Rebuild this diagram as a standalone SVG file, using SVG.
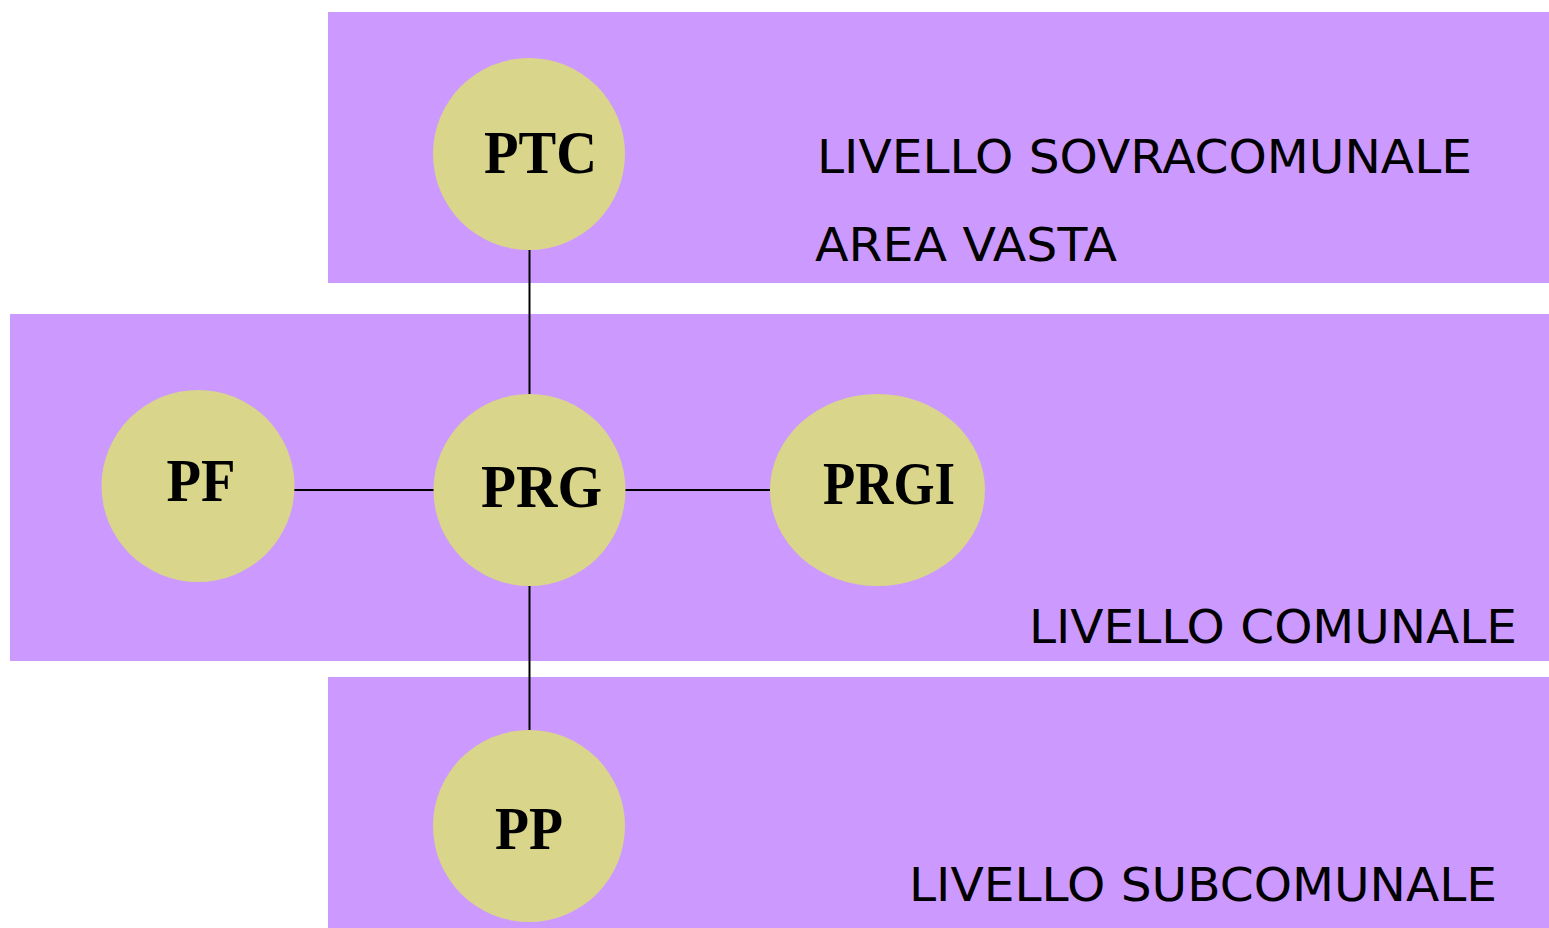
<svg xmlns="http://www.w3.org/2000/svg" width="1549" height="928" viewBox="0 0 1549 928">
<style>
.band{fill:#CC99FF}
.node{fill:#D9D58A}
.nl{font-family:"Liberation Serif","Times New Roman",serif;font-weight:bold;font-size:62px;fill:#000}
.lv{font-family:"DejaVu Sans",Verdana,sans-serif;font-size:46px;fill:#000}
.conn{stroke:#000;stroke-width:2;fill:none}
</style>
<rect width="1549" height="928" fill="#FFFFFF"/>
<g id="bands">
<rect id="band-sovracomunale" class="band" x="328" y="12" width="1221" height="271"/>
<rect id="band-comunale" class="band" x="10" y="314" width="1539" height="347"/>
<rect id="band-subcomunale" class="band" x="328" y="677" width="1221" height="251"/>
</g>
<g id="connectors">
<line class="conn" x1="529.5" y1="249" x2="529.5" y2="394"/>
<line class="conn" x1="289" y1="490" x2="434" y2="490"/>
<line class="conn" x1="625" y1="490" x2="770" y2="490"/>
<line class="conn" x1="529.5" y1="586" x2="529.5" y2="730"/>
</g>
<g id="node-PTC">
<ellipse class="node" cx="529" cy="154" rx="96" ry="96"/>
<text class="nl" x="484" y="173" textLength="113" lengthAdjust="spacingAndGlyphs">PTC</text>
</g>
<g id="node-PF">
<ellipse class="node" cx="198" cy="486" rx="96.5" ry="96"/>
<text class="nl" x="166.5" y="501" textLength="69" lengthAdjust="spacingAndGlyphs">PF</text>
</g>
<g id="node-PRG">
<ellipse class="node" cx="529.5" cy="490" rx="96" ry="96"/>
<text class="nl" x="481" y="507" textLength="121" lengthAdjust="spacingAndGlyphs">PRG</text>
</g>
<g id="node-PRGI">
<ellipse class="node" cx="877.5" cy="490" rx="107.5" ry="96"/>
<text class="nl" x="823" y="504" textLength="132" lengthAdjust="spacingAndGlyphs">PRGI</text>
</g>
<g id="node-PP">
<ellipse class="node" cx="529" cy="826" rx="96" ry="96"/>
<text class="nl" x="495" y="849" textLength="68" lengthAdjust="spacingAndGlyphs">PP</text>
</g>
<g id="labels">
<text class="lv" x="817" y="173" textLength="655" lengthAdjust="spacingAndGlyphs">LIVELLO SOVRACOMUNALE</text>
<text class="lv" x="815" y="261" textLength="302" lengthAdjust="spacingAndGlyphs">AREA VASTA</text>
<text class="lv" x="1029" y="643" textLength="488" lengthAdjust="spacingAndGlyphs">LIVELLO COMUNALE</text>
<text class="lv" x="909" y="901" textLength="588" lengthAdjust="spacingAndGlyphs">LIVELLO SUBCOMUNALE</text>
</g>
</svg>
